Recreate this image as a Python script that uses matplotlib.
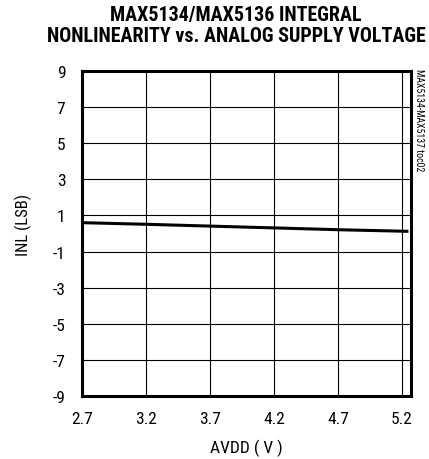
import matplotlib
matplotlib.use("Agg")
import matplotlib.pyplot as plt

avdd = [2.7, 3.2, 3.7, 4.2, 4.7, 5.25]
inl = [0.60, 0.51, 0.41, 0.31, 0.21, 0.12]
xticks = [2.7, 3.2, 3.7, 4.2, 4.7, 5.2]
yticks = [-9, -7, -5, -3, -1, 1, 3, 5, 7, 9]

plt.rcParams['font.family'] = ['Roboto Condensed', 'Archivo Narrow', 'Liberation Sans', 'DejaVu Sans']

fig = plt.figure(figsize=(4.29, 4.60), dpi=100)
ax = fig.add_axes([82/429, 1 - 397/460, (411 - 82)/429, (397 - 72)/460])
ax.plot(avdd, inl, color='black', lw=2.2, solid_capstyle='butt')
ax.set_xlim(2.7, 5.27)
ax.set_ylim(-9, 9)
ax.set_xticks(xticks)
ax.set_xticklabels([f"{v:.1f}" for v in xticks])
ax.set_yticks(yticks)
ax.set_yticklabels([str(v) for v in yticks])
ax.tick_params(axis='x', length=0, labelsize=12.5, pad=11)
ax.tick_params(axis='y', length=0, labelsize=12.5, pad=12)
ax.grid(True, color='black', lw=0.8)
for s in ax.spines.values():
    s.set_linewidth(2.2)
ax.set_xlabel('AVDD ( V )', fontsize=12.5, labelpad=9)
ax.set_ylabel('INL (LSB)', fontsize=12)
ax.yaxis.set_label_coords(-0.153, 0.53)
fig.text(236/429, 1 - 26/460, 'MAX5134/MAX5136 INTEGRAL\nNONLINEARITY vs. ANALOG SUPPLY VOLTAGE',
         ha='center', va='center', fontsize=14.4, fontweight='bold', linespacing=1.12)
fig.text(419/429, 1 - 120/460, 'MAX5134-MAX5137 toc02', rotation=270, ha='center', va='center', fontsize=7)
fig.savefig('out.png', dpi=100)
